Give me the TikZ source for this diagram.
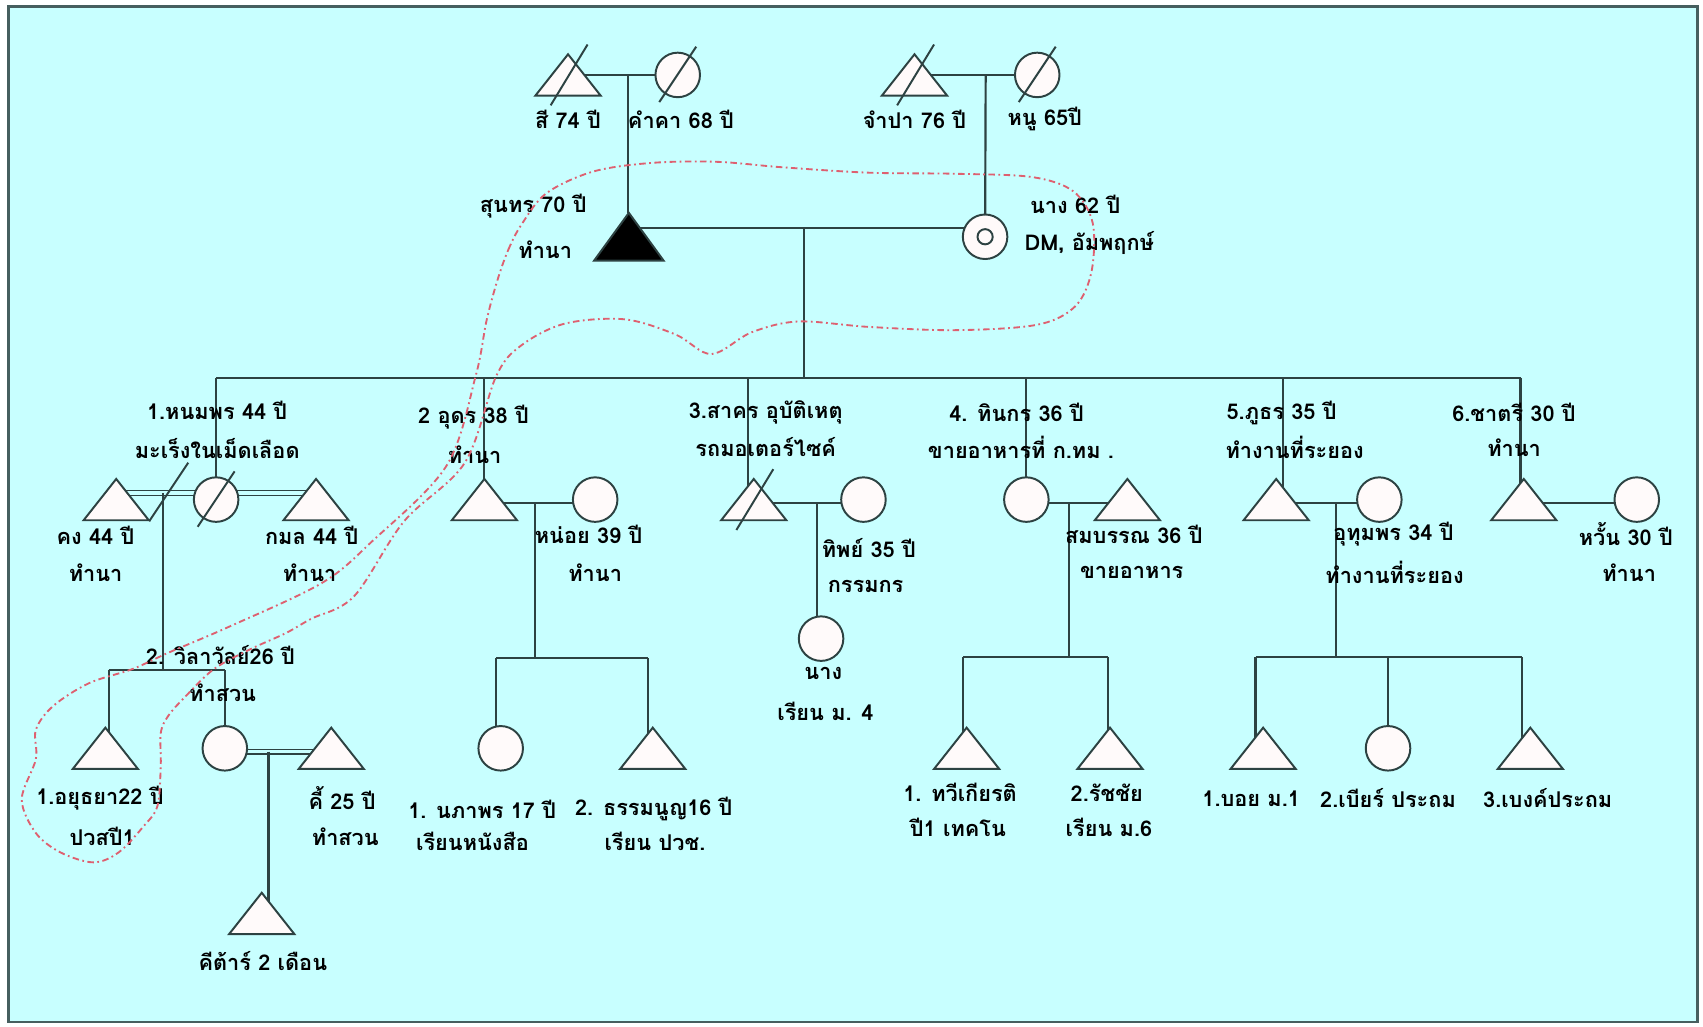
\documentclass[tikz,border=0pt]{standalone}
\usepackage{fontspec}
\newfontfamily\thai[Script=Thai]{Loma}
\usetikzlibrary{calc}
\definecolor{bgc}{RGB}{200,255,255}
\definecolor{lnc}{RGB}{45,66,66}
\definecolor{symf}{RGB}{255,250,250}
\definecolor{hhc}{RGB}{222,96,112}
\definecolor{frc}{RGB}{70,95,95}
\pgfdeclarelayer{back}\pgfdeclarelayer{bg}\pgfsetlayers{back,bg,main}
\tikzset{
 conn/.style={draw=lnc, line width=1pt},
 dbl/.style={draw=lnc, line width=0.6pt, double=bgc, double distance=1.6pt},
 symb/.style={draw=lnc, line width=0.9pt, fill=symf},
 circ/.style={circle, symb, minimum size=20.5pt, inner sep=0pt, outer sep=0pt},
 lbl/.style={font=\thai\bfseries\fontsize{10}{12}\selectfont, inner sep=0pt, text=black},
 hh/.style={draw=hhc, line width=0.85pt, dash pattern=on 3pt off 1.6pt on 0.8pt off 1.6pt},
 dead/.style={draw=lnc, line width=0.9pt},
}
\newcommand\gtri[3]{%
 \coordinate (#1) at (#2,#3);
 \coordinate (#1-t) at ($(#1)+(0,-19)$);
 \filldraw[symb] (#1-t) -- ($(#1)+(30,19)$) -- ($(#1)+(-30,19)$) -- cycle;}
\newcommand\gdead[1]{\draw[dead] ($(#1)+(-16,28)$) -- ($(#1)+(18,-28)$);}
\newcommand\gdeadc[1]{\draw[dead] ($(#1)+(-17,25)$) -- ($(#1)+(17,-26)$);}
\begin{document}
\begin{tikzpicture}[x=0.5pt,y=-0.5pt]
\useasboundingbox (0,0) rectangle (1568,945);
\begin{pgfonlayer}{back}
\fill[white] (0,0) rectangle (1568,945);
\filldraw[fill=bgc, draw=frc, line width=1.3pt] (8,6) rectangle (1563,941);
\end{pgfonlayer}

% ---------- generation 1
\gtri{tsi}{523}{69} \gdead{tsi}
\node[circ] (ckham) at (624,69) {}; \gdeadc{ckham}
\gtri{tcha}{842}{69} \gdead{tcha}
\node[circ] (cnu) at (955,69) {}; \gdeadc{cnu}

% ---------- generation 2
\coordinate (tsun) at (579,218);
\coordinate (tsun-t) at ($(tsun)+(0,-22)$);
\filldraw[draw=lnc, fill=black, line width=0.9pt] (tsun-t) -- ($(tsun)+(32,22)$) -- ($(tsun)+(-32,22)$) -- cycle;
\node[circ] (cnang) at (907,218) {};
\node[circle, draw=lnc, line width=0.9pt, minimum size=7pt, inner sep=0pt] (cnangi) at (cnang) {};

% ---------- generation 3
\gtri{tkong}{107}{460}
\node[circ] (cnom) at (199,460) {}; \gdeadc{cnom}
\gtri{tkamon}{291}{460}
\gtri{tudon}{446}{460}
\node[circ] (cnoi) at (548,460) {};
\gtri{tsak}{694}{460} \gdead{tsak}
\node[circ] (cthip) at (795,460) {};
\node[circ] (cthin) at (945,460) {};
\gtri{tsom}{1038}{460}
\gtri{tphu}{1175}{460}
\node[circ] (cuma) at (1270,460) {};
\gtri{tchat}{1403}{460}
\node[circ] (cwan) at (1507,460) {};

% ---------- generation 4
\gtri{tayut}{97}{689}
\node[circ] (cwil) at (207,689) {};
\gtri{tki}{305}{689}
\gtri{tkit}{241}{841}
\node[circ] (cnak) at (461,689) {};
\gtri{ttham}{601}{689}
\node[circ] (cnang3) at (756,588) {};
\gtri{ttaw}{890}{689}
\gtri{trat}{1022}{689}
\gtri{tboy}{1163}{689}
\node[circ] (cbia) at (1278,689) {};
\gtri{tbeng}{1409}{689}

% ---------- connectors
\begin{pgfonlayer}{bg}
\draw[conn] (tsi) -- (ckham);
\coordinate (m1) at ($(tsi)!0.55!(ckham)$);
\draw[conn] (m1) -- (m1 |- tsun-t);
\draw[conn] (tcha) -- (cnu);
\coordinate (m2) at ($(tcha)!0.58!(cnu)$);
\draw[conn] (m2) -- (cnang);
\coordinate (m3a) at ($(tsun)+(0,-8)$);
\draw[conn] (m3a) -- (m3a -| cnang);
\coordinate (m3) at (740,210);
\coordinate (sib) at (740,348);
\draw[conn] (m3) -- (sib);
\coordinate (sibL) at (199,348);
\coordinate (sibR) at (1400,348);
\draw[conn] (sibL) -- (sibR);
% drops
\draw[conn] (sibL) -- (cnom);
\draw[conn] (tudon |- sib) -- (tudon);
\coordinate (dr3) at (689,348);
\draw[conn] (dr3) -- (dr3 |- tsak);
\draw[conn] (cthin |- sib) -- (cthin);
\coordinate (dr5) at (1181,348);
\draw[conn] (dr5) -- (dr5 |- tphu);
\draw[conn] (sibR) -- (sibR |- tchat);
% family 1
\coordinate (d1) at ($(tkong)+(8,-6)$);
\draw[dbl] (d1) -- (d1 -| cnom);
\coordinate (d1r) at ($(cnom)+(0,-6)$);
\draw[dbl] (d1r) -- (d1r -| tkamon);
\coordinate (dv) at ($(d1)!0.48!(d1 -| cnom)$);
\coordinate (k1) at ($(d1)!0.42!(d1 -| cnom)$);
\coordinate (ch1L) at (100,617);
\coordinate (ch1R) at (207,617);
\draw[conn] (k1) -- (k1 |- ch1L);
\draw[conn] (ch1L) -- (ch1R);
\draw[conn] (ch1L) -- (ch1L |- tayut);
\draw[conn] (ch1R) -- (cwil);
\coordinate (d2) at ($(cwil)+(0,3)$);
\draw[dbl] (d2) -- (d2 -| tki);
\coordinate (k2) at ($(d2)!0.41!(d2 -| tki)$);
\draw[conn] (k2) -- (k2 |- tkit);
% family 2
\coordinate (mu) at ($(tudon)+(0,3)$);
\draw[conn] (mu) -- (mu -| cnoi);
\coordinate (mu2) at ($(mu)!0.46!(mu -| cnoi)$);
\coordinate (ch2L) at (457,606);
\coordinate (ch2R) at (597,606);
\draw[conn] (mu2) -- (mu2 |- ch2L);
\draw[conn] (ch2L) -- (ch2R);
\draw[conn] (ch2L) -- (ch2L |- cnak);
\draw[conn] (ch2R) -- (ch2R |- ttham);
% family 3
\coordinate (ms) at ($(tsak)+(0,3)$);
\draw[conn] (ms) -- (ms -| cthip);
\coordinate (ms2) at (752,463);
\draw[conn] (ms2) -- (ms2 |- cnang3);
% family 4
\coordinate (mt) at ($(cthin)+(0,3)$);
\draw[conn] (mt) -- (mt -| tsom);
\coordinate (mt2) at (984,463);
\coordinate (ch4L) at (887,605);
\coordinate (ch4R) at (1020,605);
\draw[conn] (mt2) -- (mt2 |- ch4L);
\draw[conn] (ch4L) -- (ch4R);
\draw[conn] (ch4L) -- (ch4L |- ttaw);
\draw[conn] (ch4R) -- (ch4R |- trat);
% family 5
\coordinate (mp) at ($(tphu)+(0,3)$);
\draw[conn] (mp) -- (mp -| cuma);
\coordinate (mp2) at (1230,463);
\coordinate (ch5L) at (1156,605);
\coordinate (ch5R) at (1401,605);
\draw[conn] (mp2) -- (mp2 |- ch5L);
\draw[conn] (ch5L) -- (ch5R);
\draw[conn] (ch5L) -- (ch5L |- tboy);
\draw[conn] (cbia |- ch5L) -- (cbia);
\draw[conn] (ch5R) -- (ch5R |- tbeng);
% family 6
\coordinate (mc) at ($(tchat)+(0,3)$);
\draw[conn] (mc) -- (mc -| cwan);
\end{pgfonlayer}
% divorce slash
\draw[dead] ($(dv)+(-18,26)$) -- ($(dv)+(18,-28)$);

% ---------- labels
\node[lbl] (l1) at (523,110) {สี 74 ปี};
\node[lbl] (l2) at (627,110) {คำคา 68 ปี};
\node[lbl] (l3) at (842,110) {จำปา 76 ปี};
\node[lbl] (l4) at (962,110) {หนู 65ปี};
\node[lbl] (l5) at (491,190) {สุนทร 70 ปี};
\node[lbl] (l6) at (502,230) {ทำนา};
\node[lbl] (l7) at (990,188) {นาง 62 ปี};
\node[lbl] (l8) at (1003,224) {DM, อัมพฤกษ์};

\node[lbl] (a1) at (200,378) {1.หนมพร 44 ปี};
\node[lbl] (a2) at (200,413) {มะเร็งในเม็ดเลือด};
\node[lbl] (a3) at (436,384) {2 อุดร 38 ปี};
\node[lbl] (a4) at (437,419) {ทำนา};
\node[lbl] (a5) at (705,380) {3.สาคร อุบัติเหตุ};
\node[lbl] (a6) at (705,412) {รถมอเตอร์ไซค์};
\node[lbl] (a7) at (936,380) {4. ทินกร 36 ปี};
\node[lbl] (a8) at (940,412) {ขายอาหารที่ ก.ทม .};
\node[lbl] (a9) at (1180,380) {5.ภูธร 35 ปี};
\node[lbl] (a10) at (1192,412) {ทำงานที่ระยอง};
\node[lbl] (a11) at (1394,380) {6.ชาตรี 30 ปี};
\node[lbl] (a12) at (1394,412) {ทำนา};

\node[lbl] (b1) at (88,493) {คง 44 ปี};
\node[lbl] (b2) at (88,527) {ทำนา};
\node[lbl] (b3) at (287,493) {กมล 44 ปี};
\node[lbl] (b4) at (285,527) {ทำนา};
\node[lbl] (b5) at (542,492) {หน่อย 39 ปี};
\node[lbl] (b6) at (548,527) {ทำนา};
\node[lbl] (b7) at (800,505) {ทิพย์ 35 ปี};
\node[lbl] (b8) at (797,540) {กรรมกร};
\node[lbl] (b9) at (1044,492) {สมบรรณ 36 ปี};
\node[lbl] (b10) at (1042,527) {ขายอาหาร};
\node[lbl] (b11) at (1283,492) {อุทุมพร 34 ปี};
\node[lbl] (b12) at (1284,527) {ทำงานที่ระยอง};
\node[lbl] (b13) at (1497,492) {หวั้น 30 ปี};
\node[lbl] (b14) at (1500,527) {ทำนา};

\node[lbl] (c1) at (203,603) {2. วิลาวัลย์26 ปี};
\node[lbl] (c2) at (205,638) {ทำสวน};
\node[lbl] (c3) at (92,735) {1.อยุธยา22 ปี};
\node[lbl] (c4) at (94,770) {ปวสปี1};
\node[lbl] (c5) at (315,735) {คี้ 25 ปี};
\node[lbl] (c6) at (318,770) {ทำสวน};
\node[lbl] (c7) at (242,885) {คีต้าร์ 2 เดือน};
\node[lbl] (c8) at (444,745) {1. นภาพร 17 ปี};
\node[lbl] (c9) at (435,775) {เรียนหนังสือ};
\node[lbl] (c10) at (602,745) {2. ธรรมนูญ16 ปี};
\node[lbl] (c11) at (603,775) {เรียน ปวช.};
\node[lbl] (c12) at (758,620) {นาง};
\node[lbl] (c13) at (760,655) {เรียน ม. 4};
\node[lbl] (c14) at (884,730) {1. ทวีเกียรติ};
\node[lbl] (c15) at (882,762) {ปี1 เทคโน};
\node[lbl] (c16) at (1019,730) {2.รัชชัย};
\node[lbl] (c17) at (1021,762) {เรียน ม.6};
\node[lbl] (c18) at (1152,735) {1.บอย ม.1};
\node[lbl] (c19) at (1278,735) {2.เบียร์ ประถม};
\node[lbl] (c20) at (1425,735) {3.เบงค์ประถม};

% ---------- household boundary
\draw[hh] plot[smooth cycle, tension=0.55] coordinates {
 (458,258) (468,230) (480,207) (503,178) (546,158) (600,150) (660,149) (720,154)
 (800,159) (880,160) (950,163) (988,176) (1006,205) (1005,250) (990,282) (955,299)
 (880,304) (800,301) (735,296) (692,306) (655,326) (622,308) (575,294) (520,298)
 (480,318) (457,346) (428,426) (372,480) (326,549) (286,570) (263,583) (230,598)
 (197,616) (171,641) (155,659) (148,675) (148,705) (145,742) (132,761) (109,785)
 (86,794) (56,785) (33,767) (20,736) (33,699) (33,672) (49,650) (82,629)
 (122,616) (155,601) (211,577) (296,537) (342,499) (411,429) (438,346) (448,295)};
\end{tikzpicture}
\end{document}
